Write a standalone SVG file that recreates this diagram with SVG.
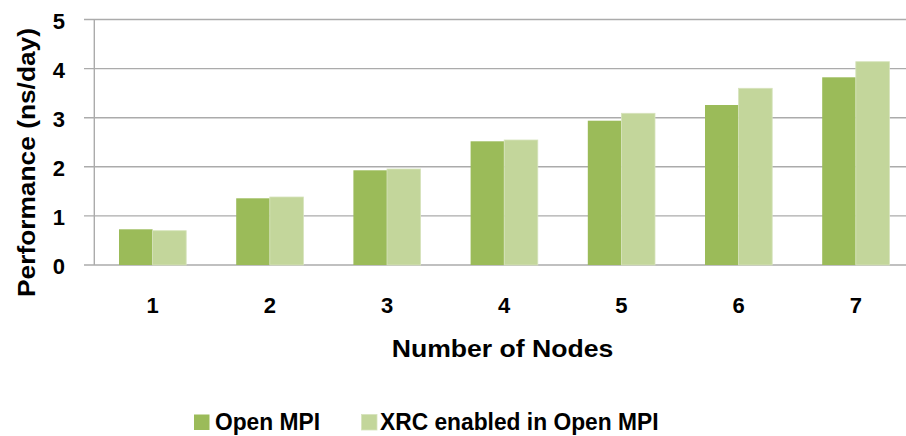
<svg xmlns="http://www.w3.org/2000/svg" width="906" height="436" viewBox="0 0 906 436">
<style>
text{font-family:"Liberation Sans",Arial,sans-serif;font-weight:bold;fill:#000}
.grid{stroke:#ababab;stroke-width:1.4;fill:none}
.d{fill:#9bbb59}
.l{fill:#c3d69b;stroke:#d6e3bc;stroke-width:0.8}
.tick{font-size:22px;text-anchor:end}
.cat{font-size:22px;text-anchor:middle}
</style>
<rect width="906" height="436" fill="#fff"/>
<g id="grid">
<line class="grid" x1="84" y1="19.5" x2="906" y2="19.5"/>
<line class="grid" x1="84" y1="68.6" x2="906" y2="68.6"/>
<line class="grid" x1="84" y1="117.7" x2="906" y2="117.7"/>
<line class="grid" x1="84" y1="166.8" x2="906" y2="166.8"/>
<line class="grid" x1="84" y1="215.9" x2="906" y2="215.9"/>
<line class="grid" x1="84" y1="265" x2="906" y2="265"/>
<line class="grid" x1="94.3" y1="19.5" x2="94.3" y2="265"/>
</g>
<g id="yticks">
<text class="tick" x="65" y="28.5">5</text>
<text class="tick" x="65" y="77.6">4</text>
<text class="tick" x="65" y="126.7">3</text>
<text class="tick" x="65" y="175.8">2</text>
<text class="tick" x="65" y="224.9">1</text>
<text class="tick" x="65" y="273.5">0</text>
</g>
<g id="bars">
<rect class="d" x="119" y="229.3" width="33.6" height="35.7"/>
<rect class="l" x="152.6" y="230.7" width="33.6" height="34.3"/>
<rect class="d" x="236.2" y="198.3" width="33.6" height="66.7"/>
<rect class="l" x="269.8" y="197" width="33.6" height="68"/>
<rect class="d" x="353.4" y="170.3" width="33.6" height="94.7"/>
<rect class="l" x="387" y="169" width="33.6" height="96"/>
<rect class="d" x="470.6" y="141.3" width="33.6" height="123.7"/>
<rect class="l" x="504.2" y="140" width="33.6" height="125"/>
<rect class="d" x="587.8" y="120.7" width="33.6" height="144.3"/>
<rect class="l" x="621.4" y="113.3" width="33.6" height="151.7"/>
<rect class="d" x="705" y="105" width="33.6" height="160"/>
<rect class="l" x="738.6" y="88.3" width="33.6" height="176.7"/>
<rect class="d" x="822.2" y="77.3" width="33.6" height="187.7"/>
<rect class="l" x="855.8" y="61.7" width="33.6" height="203.3"/>
</g>
<g id="xlabels">
<text class="cat" x="152.6" y="313">1</text>
<text class="cat" x="269.8" y="313">2</text>
<text class="cat" x="387" y="313">3</text>
<text class="cat" x="504.2" y="313">4</text>
<text class="cat" x="621.4" y="313">5</text>
<text class="cat" x="738.6" y="313">6</text>
<text class="cat" x="855.8" y="313">7</text>
</g>
<g id="axis-titles">
<text x="391.7" y="357" font-size="24" textLength="221.6" lengthAdjust="spacingAndGlyphs">Number of Nodes</text>
<text transform="translate(35,297) rotate(-90)" x="0" y="0" font-size="24" textLength="269" lengthAdjust="spacingAndGlyphs">Performance (ns/day)</text>
</g>
<g id="legend">
<rect class="d" x="194" y="414.5" width="15.5" height="15.5"/>
<text x="215" y="430" font-size="23" textLength="105" lengthAdjust="spacingAndGlyphs">Open MPI</text>
<rect class="l" x="361.5" y="414.5" width="15.5" height="15.5"/>
<text x="380" y="430" font-size="23" textLength="278.5" lengthAdjust="spacingAndGlyphs">XRC enabled in Open MPI</text>
</g>
</svg>
